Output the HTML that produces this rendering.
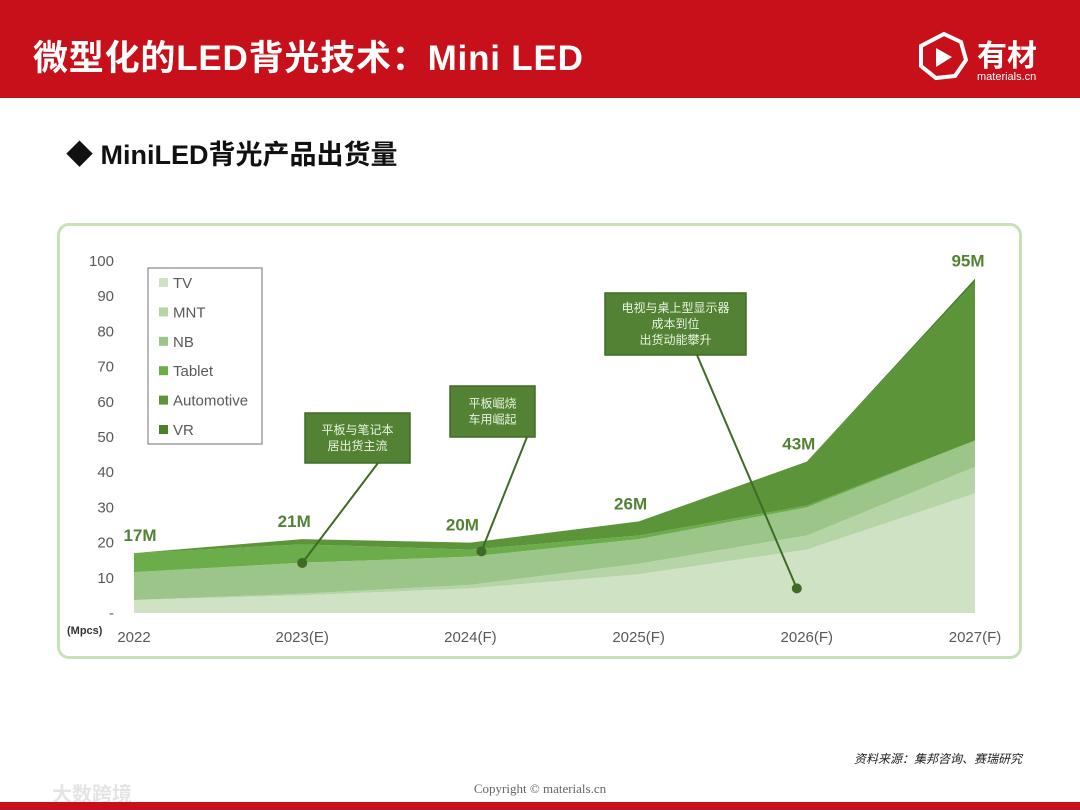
<!DOCTYPE html>
<html><head><meta charset="utf-8">
<style>
body{margin:0;width:1080px;height:810px;overflow:hidden;background:#fff;font-family:"Liberation Sans","Noto Sans CJK SC",sans-serif;position:relative}
#hdr{position:absolute;left:0;top:0;width:1080px;height:98px;background:#c8101a}
#title{position:absolute;left:33px;top:30px;color:#fff;font-size:35px;font-weight:bold;letter-spacing:0.8px}
#sub{position:absolute;left:66px;top:133px;font-size:27px;font-weight:bold;color:#111}
#frame{position:absolute;left:57px;top:223px;width:959px;height:430px;border:3.5px solid #c8e2b6;border-radius:12px}
#src{position:absolute;right:58px;top:750px;font-size:12px;font-style:italic;color:#222}
#copy{position:absolute;left:0;width:1080px;text-align:center;top:781px;font-family:"Liberation Serif",serif;font-size:13px;color:#666}
#bot{position:absolute;left:0;top:802px;width:1080px;height:8px;background:#c8101a}
#wm{position:absolute;left:52px;top:778px;font-size:20px;color:#e4e4e4;font-weight:bold}
svg{position:absolute;left:0;top:0}
</style></head><body>
<div id="hdr"></div>
<div id="title">微型化的LED背光技术：Mini LED</div>
<svg width="1080" height="100">
<polygon points="944,34 961,42 966,60 955,76 936,78 921,66 921,46" fill="none" stroke="#fff" stroke-width="4"/>
<polygon points="936,48 952,57 936,67" fill="#fff"/>
<text x="977" y="66" fill="#fff" font-size="30" font-weight="bold" font-family="Noto Sans CJK SC,sans-serif">有材</text>
<text x="977" y="80" fill="#fff" font-size="11" font-family="Liberation Sans,sans-serif">materials.cn</text>
</svg>
<div id="sub">◆ MiniLED背光产品出货量</div>
<div id="frame"></div>
<svg id="chart" width="1080" height="810"></svg>
<div id="src">资料来源：集邦咨询、赛瑞研究</div>
<div id="wm">大数跨境</div>
<div id="copy">Copyright © materials.cn</div>
<div id="bot"></div>
<script>
const categories=["2022","2023(E)","2024(F)","2025(F)","2026(F)","2027(F)"];
const seriesNames=["TV","MNT","NB","Tablet","Automotive","VR"];
const tv=[3.7,5,7,11,18,34];
const mnt=[0,0.5,1,3,4,7.5];
const nb=[7.9,8.8,8,7,8,7.5];
const tablet=[5.4,5.2,2,1,0.5,0];
const automotive=[0,1.5,2,4,12.5,45];
const vr=[0,0,0,0,0,1];
const totalLabels=["17M","21M","20M","26M","43M","95M"];
const yTicks=[0,10,20,30,40,50,60,70,80,90,100];
const colors=["#cfe2c4","#b6d5a6","#9bc589","#6aad4a","#5b9439","#4a822c"];
const series=[tv,mnt,nb,tablet,automotive,vr];
const NS="http://www.w3.org/2000/svg";
const svg=document.getElementById('chart');
const x=i=>134+i*168.2;
const y=v=>613-v*3.52;
function mk(t,a){const e=document.createElementNS(NS,t);for(const k in a)e.setAttribute(k,a[k]);svg.appendChild(e);return e;}
let base=categories.map(()=>0);
series.forEach((s,si)=>{
  const top=base.map((b,i)=>b+s[i]);
  let d="M"+categories.map((c,i)=>x(i)+","+y(top[i])).join(" L");
  for(let i=categories.length-1;i>=0;i--)d+=" L"+x(i)+","+y(base[i]);
  const p=mk('path',{d:d+"Z",fill:colors[si]});
  
  
  base=top;
});
yTicks.forEach(v=>{
  const t=mk('text',{x:114,y:y(v)+5,'text-anchor':'end','font-size':15,fill:'#595959'});
  t.textContent=v===0?'-':v;
  
  
});
categories.forEach((c,i)=>{
  const t=mk('text',{x:x(i),y:642,'text-anchor':'middle','font-size':15,fill:'#595959'});
  t.textContent=c;
  
  
  const l=mk('text',{x:x(i)-(i==0?-6:i==5?7:8),y:y(base[i])-12,'text-anchor':'middle','font-size':17,'font-weight':'bold',fill:'#548235'});
  l.textContent=totalLabels[i];
  
  
});
const u=mk('text',{x:67,y:634,'font-size':11,'font-weight':'bold',fill:'#333'});u.textContent='(Mpcs)';


const lb=mk('rect',{x:148,y:268,width:114,height:176,fill:'#fff',stroke:'#888','stroke-width':1.2});


seriesNames.forEach((n,i)=>{
  const yy=283+i*29.4;
  mk('rect',{x:159,y:yy-5,width:9,height:9,fill:colors[i]});
  const t=mk('text',{x:173,y:yy+5,'font-size':15,fill:'#595959'});t.textContent=n;
  
  
});
const callouts=[{bx:305,by:413,w:105,h:50,ci:1,cv:14.2,dx:0,lines:["平板与笔记本","居出货主流"],lx:378},
{bx:450,by:386,w:85,h:51,ci:2,cv:17.5,dx:11,lines:["平板崛烧","车用崛起"],lx:527},
{bx:605,by:293,w:141,h:62,ci:4,cv:7,dx:-10,lines:["电视与桌上型显示器","成本到位","出货动能攀升"],lx:697}];
callouts.forEach(c=>{
  const px=x(c.ci)+c.dx,py=y(c.cv);
  mk('line',{x1:c.lx,y1:c.by+c.h,x2:px,y2:py,stroke:'#3f6b26','stroke-width':2});
  mk('circle',{cx:px,cy:py,r:5,fill:'#3f6b26'});
  const r=mk('rect',{x:c.bx,y:c.by,width:c.w,height:c.h,fill:'#548235',stroke:'#3f6b26','stroke-width':1.5});
  
  
  const n=c.lines.length,lh=16,st=c.by+c.h/2-(n-1)*lh/2+4;
  c.lines.forEach((s,k)=>{const t=mk('text',{x:c.bx+c.w/2,y:st+k*lh,'text-anchor':'middle','font-size':12,fill:'#e8f2e0'});t.textContent=s;});
});
</script>
</body></html>
